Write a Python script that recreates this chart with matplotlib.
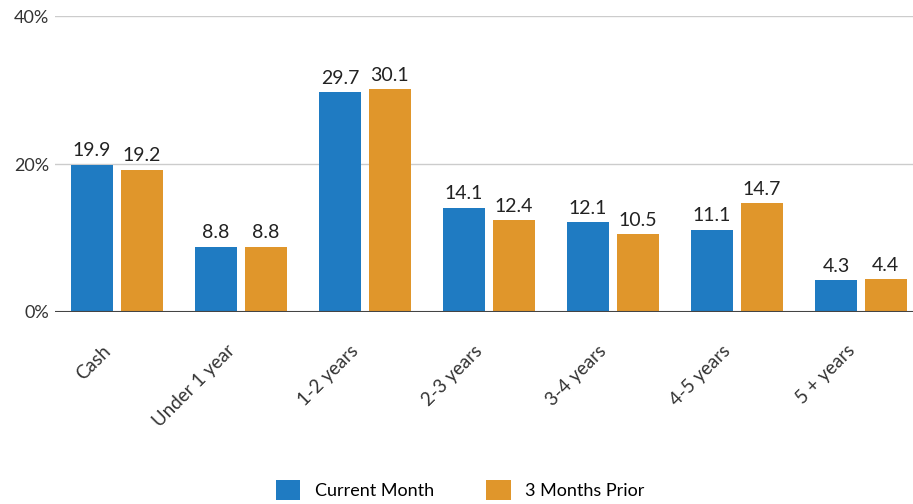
import matplotlib.pyplot as plt
import matplotlib.transforms as mtransforms
import numpy as np

categories = ["Cash", "Under 1 year", "1-2 years", "2-3 years", "3-4 years", "4-5 years", "5 + years"]
current_month = [19.9, 8.8, 29.7, 14.1, 12.1, 11.1, 4.3]
three_months_prior = [19.2, 8.8, 30.1, 12.4, 10.5, 14.7, 4.4]
yticks = [0, 20, 40]

blue = "#1f7bc2"
orange = "#e0962b"

plt.rcParams["font.family"] = ["Lato", "DejaVu Sans"]

fig = plt.figure(figsize=(9.13, 5.04), dpi=100)
ax = fig.add_axes([0.060, 0.381, 0.940, 0.587])

x = np.arange(len(categories))
w = 0.34
off = 0.2
b1 = ax.bar(x - off, current_month, w, color=blue, label="Current Month", zorder=3)
b2 = ax.bar(x + off, three_months_prior, w, color=orange, label="3 Months Prior", zorder=3)

for bars, vals in ((b1, current_month), (b2, three_months_prior)):
    for rect, v in zip(bars, vals):
        ax.annotate(f"{v:.1f}", (rect.get_x() + rect.get_width() / 2, v),
                    xytext=(0, 4), textcoords="offset points",
                    ha="center", va="bottom", fontsize=14, color="#222222")

ax.set_xlim(-0.5, len(categories) - 0.58)
ax.set_ylim(0, 40)
ax.set_yticks(yticks)
ax.set_yticklabels([f"{t}%" for t in yticks], fontsize=13, color="#333333")
for t in yticks[1:]:
    ax.axhline(t, color="#cccccc", lw=1, zorder=1)
ax.axhline(0, color="#444444", lw=1.5, zorder=4)

# category labels drawn as text so they can be nudged
ax.set_xticks(x)
ax.set_xticklabels([])
shift = mtransforms.ScaledTranslation(-15 / 100, -30 / 100, fig.dpi_scale_trans)
for i, cat in enumerate(categories):
    ax.text(i, 0, cat, transform=ax.get_xaxis_transform() + shift,
            rotation=45, ha="right", va="top", rotation_mode="anchor",
            fontsize=13.5, color="#333333")

ax.tick_params(axis="both", length=0)
ax.tick_params(axis="y", pad=4)
for s in ax.spines.values():
    s.set_visible(False)

fig.legend(handles=[b1, b2], loc="center", bbox_to_anchor=(0.504, 0.028),
           ncol=2, frameon=False, fontsize=13, handlelength=1.35, handleheight=1.35,
           columnspacing=2.9, handletextpad=0.8)

fig.savefig("out.png", dpi=100)
